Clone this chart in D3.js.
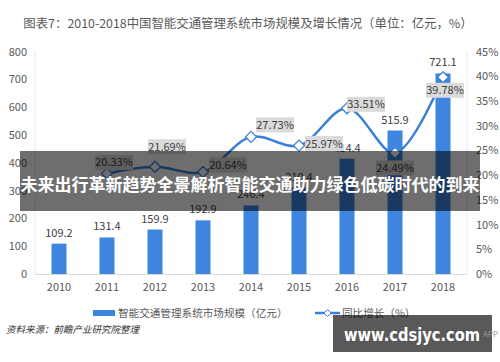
<!DOCTYPE html>
<html><head><meta charset="utf-8">
<script src="https://cdn.jsdelivr.net/npm/d3@7"></script>
<style>body{margin:0;background:#fff}svg{display:block}</style>
</head><body>
<script>
const years = ["2010","2011","2012","2013","2014","2015","2016","2017","2018"];
const marketSize = [109.2,131.4,159.9,192.9,246.4,310.4,414.4,515.9,721.1];
const growthYears = ["2011","2012","2013","2014","2015","2016","2017","2018"];
const growth = [20.33,21.69,20.64,27.73,25.97,33.51,24.49,39.78];
const leftTicks = [0,100,200,300,400,500,600,700,800];
const rightTicks = [0,5,10,15,20,25,30,35,40,45];
const titleText = "图表7：2010-2018中国智能交通管理系统市场规模及增长情况（单位：亿元，%）";
const barLegend = "智能交通管理系统市场规模（亿元）";
const lineLegend = "同比增长（%）";
const sourceText = "资料来源：前瞻产业研究院整理";
const overlayText = "未来出行革新趋势全景解析智能交通助力绿色低碳时代的到来";
const siteText = "www.cdsjyc.com";

// label offsets (layout only)
const labelOffsets = [[7,-11],[12,-20],[25,-7],[24,-12],[25,-2],[19,-4],[0,15],[2,13]];

const W=500,H=362;
const FONT='"Noto Sans CJK SC","Noto Sans",sans-serif';
const svg=d3.select("body").append("svg").attr("width",W).attr("height",H).style("font-family",FONT);

const x=d3.scaleBand().domain(years).range([35,467]).paddingInner(0.6875).paddingOuter(0.34375);
const yL=d3.scaleLinear().domain([0,800]).range([274,51.5]);
const yR=d3.scaleLinear().domain([0,45]).range([274,51.5]);

svg.append("text").attr("x",248).attr("y",28).attr("text-anchor","middle")
  .attr("font-size",12.4).attr("fill","#595959").text(titleText);

// frame lines
svg.append("line").attr("x1",35).attr("x2",35).attr("y1",51).attr("y2",274).attr("stroke","#ececec");
svg.append("line").attr("x1",467).attr("x2",467).attr("y1",51).attr("y2",274).attr("stroke","#ececec");

// axes
const gL=svg.append("g").attr("transform","translate(27,0)")
  .call(d3.axisLeft(yL).tickValues(leftTicks).tickSize(0).tickPadding(0));
gL.select(".domain").remove();
gL.selectAll("text").attr("font-size",11).attr("fill","#595959").attr("font-family",FONT);

const gR=svg.append("g").attr("transform","translate(476,0)")
  .call(d3.axisRight(yR).tickValues(rightTicks).tickSize(0).tickPadding(0).tickFormat(d=>d+"%"));
gR.select(".domain").remove();
gR.selectAll("text").attr("font-size",11).attr("fill","#595959").attr("font-family",FONT);

const gX=svg.append("g").attr("transform","translate(0,274)")
  .call(d3.axisBottom(x).tickSize(0).tickPadding(9));
gX.select(".domain").attr("stroke","#d9d9d9");
gX.selectAll("text").attr("font-size",11).attr("fill","#595959").attr("font-family",FONT);

// bars
svg.selectAll("rect.bar").data(years).enter().append("rect").attr("class","bar")
  .attr("x",d=>x(d)).attr("width",x.bandwidth())
  .attr("y",(d,i)=>yL(marketSize[i])).attr("height",(d,i)=>yL(0)-yL(marketSize[i]))
  .attr("fill","#3d85e0");
svg.selectAll("text.bv").data(years).enter().append("text").attr("class","bv")
  .attr("x",d=>x(d)+x.bandwidth()/2).attr("y",(d,i)=>yL(marketSize[i])-7)
  .attr("text-anchor","middle").attr("font-size",11).attr("fill","#404040")
  .text((d,i)=>marketSize[i].toFixed(1));

// line
const pts=growthYears.map((d,i)=>[x(d)+x.bandwidth()/2,yR(growth[i])]);
svg.append("path").attr("d",d3.line().curve(d3.curveCatmullRom.alpha(0.5))(pts))
  .attr("fill","none").attr("stroke","#3a7fd8").attr("stroke-width",2.5);
svg.selectAll("path.mk").data(pts).enter().append("path").attr("class","mk")
  .attr("transform",d=>`translate(${d[0]},${d[1]})`)
  .attr("d","M0,-5.5L5.5,0L0,5.5L-5.5,0Z").attr("fill","#fff").attr("stroke","#3a7fd8").attr("stroke-width",1.3);

// growth labels
const lg=svg.selectAll("g.gl").data(pts).enter().append("g").attr("class","gl")
  .attr("transform",(d,i)=>`translate(${d[0]+labelOffsets[i][0]},${d[1]+labelOffsets[i][1]})`);
lg.append("rect").attr("x",-19).attr("y",-7.5).attr("width",38).attr("height",15).attr("fill","#dadada");
lg.append("text").attr("text-anchor","middle").attr("dy","0.36em").attr("font-size",11).attr("fill","#404040")
  .text((d,i)=>growth[i].toFixed(2)+"%");

// legend
svg.append("rect").attr("x",93).attr("y",310).attr("width",22).attr("height",6).attr("fill","#3d85e0");
svg.append("text").attr("x",118).attr("y",313).attr("dy","0.36em").attr("font-size",10.6).attr("fill","#595959").text(barLegend);
svg.append("line").attr("x1",315).attr("x2",340).attr("y1",313).attr("y2",313).attr("stroke","#3a7fd8").attr("stroke-width",2.5);
svg.append("path").attr("transform","translate(327.5,313)").attr("d","M0,-3.5L3.5,0L0,3.5L-3.5,0Z").attr("fill","#fff").attr("stroke","#3a7fd8").attr("stroke-width",1);
svg.append("text").attr("x",342).attr("y",313).attr("dy","0.36em").attr("font-size",10.6).attr("fill","#595959").text(lineLegend);

// source
svg.append("text").attr("x",6).attr("y",330).attr("dy","0.36em").attr("font-size",9.5).attr("font-style","italic")
  .attr("fill","#333").text(sourceText);

// overlay band
svg.append("rect").attr("x",20).attr("y",151).attr("width",460).attr("height",60).attr("fill","rgba(0,0,0,0.57)");
svg.append("text").attr("x",250).attr("y",185).attr("dy","0.36em").attr("text-anchor","middle")
  .attr("font-size",17).attr("font-weight","bold").attr("fill","#fff").text(overlayText);

// site box
svg.append("rect").attr("x",333).attr("y",315).attr("width",159).attr("height",37).attr("fill","rgba(0,0,0,0.65)");
svg.append("text").attr("x",344).attr("y",334).attr("dy","0.36em").attr("font-size",18.5).attr("font-weight","bold")
  .attr("font-family",'"DejaVu Sans","Liberation Sans",sans-serif').attr("fill","#fff").text(siteText)
  .attr("textLength",136).attr("lengthAdjust","spacingAndGlyphs");
svg.append("text").attr("x",498).attr("y",334).attr("dy","0.36em").attr("text-anchor","end").attr("font-size",8)
  .attr("fill","#9a9a9a").text("APP");
</script>
</body></html>
